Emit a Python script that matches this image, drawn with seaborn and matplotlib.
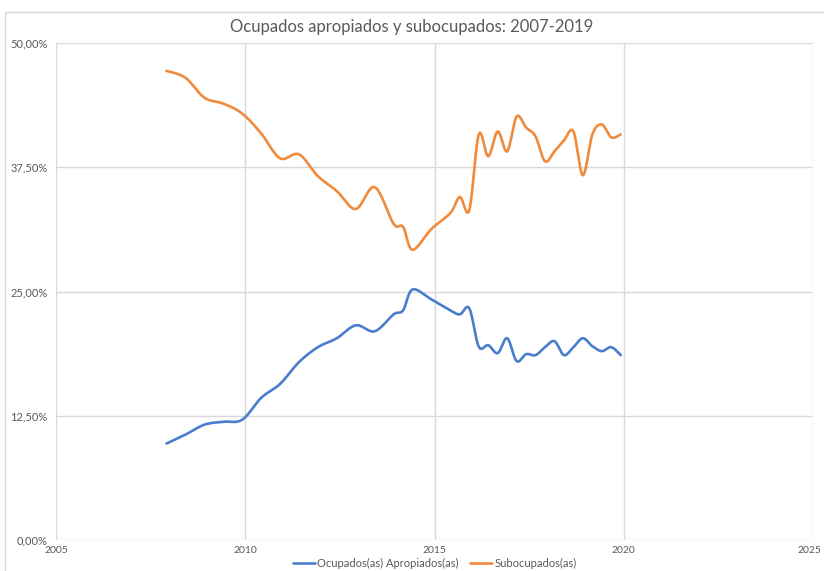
import numpy as np
import pandas as pd
import matplotlib
matplotlib.use("Agg")
import matplotlib.pyplot as plt
from matplotlib.patches import Rectangle
from matplotlib.ticker import FuncFormatter
from matplotlib.transforms import ScaledTranslation
import seaborn as sns

# Data (x = fractional year, values in %)
anios = [2007.92, 2008.42, 2008.92, 2009.42, 2009.92, 2010.42, 2010.92, 2011.42,
         2011.92, 2012.42, 2012.92, 2013.42, 2013.92, 2014.17, 2014.42, 2014.92,
         2015.42, 2015.67, 2015.92,
         2016.17, 2016.42, 2016.67, 2016.92, 2017.17, 2017.42, 2017.67, 2017.92,
         2018.17, 2018.42, 2018.67, 2018.92, 2019.17, 2019.42, 2019.67, 2019.92]

ocupados_apropiados = [9.7, 10.6, 11.6, 11.9, 12.1, 14.3, 15.7, 17.9,
                       19.4, 20.3, 21.6, 21.0, 22.7, 23.1, 25.2, 24.2,
                       23.1, 22.7, 23.3,
                       19.45, 19.6, 18.8, 20.3, 18.0, 18.7, 18.6, 19.4,
                       20.0, 18.6, 19.4, 20.3, 19.5, 19.0, 19.4, 18.6]

subocupados = [47.2, 46.5, 44.5, 43.9, 42.9, 40.9, 38.4, 38.8,
               36.6, 35.1, 33.3, 35.5, 31.8, 31.5, 29.2, 31.3,
               32.9, 34.5, 33.2,
               40.8, 38.6, 41.1, 39.1, 42.6, 41.5, 40.6, 38.1,
               39.1, 40.2, 41.1, 36.7, 40.8, 41.8, 40.5, 40.8]

series = {
    "Ocupados(as) Apropiados(as)": ocupados_apropiados,
    "Subocupados(as)": subocupados,
}
colores = ["#4a7dcc", "#f08a3c"]


def suavizar(x, y, n=24):
    """Excel-style smoothed line: Bezier segments with Catmull-Rom tangents"""
    p = np.column_stack([x, y]).astype(float)
    p = np.vstack([p[0], p, p[-1]])
    out = []
    t = np.linspace(0, 1, n, endpoint=False)[:, None]
    for i in range(1, len(p) - 2):
        p0, p1 = p[i], p[i + 1]
        c1 = p0 + (p[i + 1] - p[i - 1]) / 6
        c2 = p1 - (p[i + 2] - p[i]) / 6
        seg = ((1 - t) ** 3) * p0 + 3 * ((1 - t) ** 2) * t * c1 + 3 * (1 - t) * t ** 2 * c2 + t ** 3 * p1
        out.append(seg)
    out.append(p[-2][None, :])
    return np.vstack(out)


filas = []
for nombre, valores in series.items():
    curva = suavizar(anios, valores)
    filas.append(pd.DataFrame({"x": curva[:, 0], "y": curva[:, 1], "serie": nombre}))
df = pd.concat(filas, ignore_index=True)

sns.set_theme(style="white")
plt.rcParams["font.family"] = ["Lato", "DejaVu Sans"]

fig = plt.figure(figsize=(8.24, 5.71), dpi=100)
ax = fig.add_axes([56 / 824, 1 - 540 / 571, (813 - 56) / 824, (540 - 43) / 571])

sns.lineplot(data=df, x="x", y="y", hue="serie", palette=colores, sort=False,
             estimator=None, linewidth=1.9, ax=ax)

ax.set_xlim(2005, 2025)
ax.set_ylim(0, 50)
ax.set_xticks([2005, 2010, 2015, 2020, 2025])
ax.set_yticks([0, 12.5, 25, 37.5, 50])
ax.yaxis.set_major_formatter(FuncFormatter(lambda v, _: f"{v:.2f}%".replace(".", ",")))
ax.grid(True, color="#d9d9d9", linewidth=1.0)
ax.set_axisbelow(True)
for s in ax.spines.values():
    s.set_visible(False)
ax.tick_params(axis="both", length=0, labelcolor="#595959")
ax.tick_params(axis="x", pad=4, labelsize=7.5)
ax.tick_params(axis="y", pad=6, labelsize=8)
ax.set_xlabel("")
ax.set_ylabel("")

# keep the last year label inside the figure
ultima = ax.get_xticklabels()[-1]
ultima.set_transform(ultima.get_transform() + ScaledTranslation(-4 / 100, 0, fig.dpi_scale_trans))

fig.text(0.5, 1 - 27 / 571, "Ocupados apropiados y subocupados: 2007-2019",
         ha="center", va="center", fontsize=12, color="#595959")

ax.legend(loc="center", bbox_to_anchor=(0.5, -0.048), ncol=2, frameon=False,
          fontsize=8, labelcolor="#595959", handlelength=2.0, handletextpad=0.2,
          columnspacing=1.0, borderaxespad=0, borderpad=0)

# chart area border
fig.patches.append(Rectangle((5 / 824, -0.01), 1.0, 1 - 12 / 571 + 0.01,
                             transform=fig.transFigure, fill=False,
                             edgecolor="#d9d9d9", linewidth=1.0))

fig.savefig("out.png", dpi=100)
